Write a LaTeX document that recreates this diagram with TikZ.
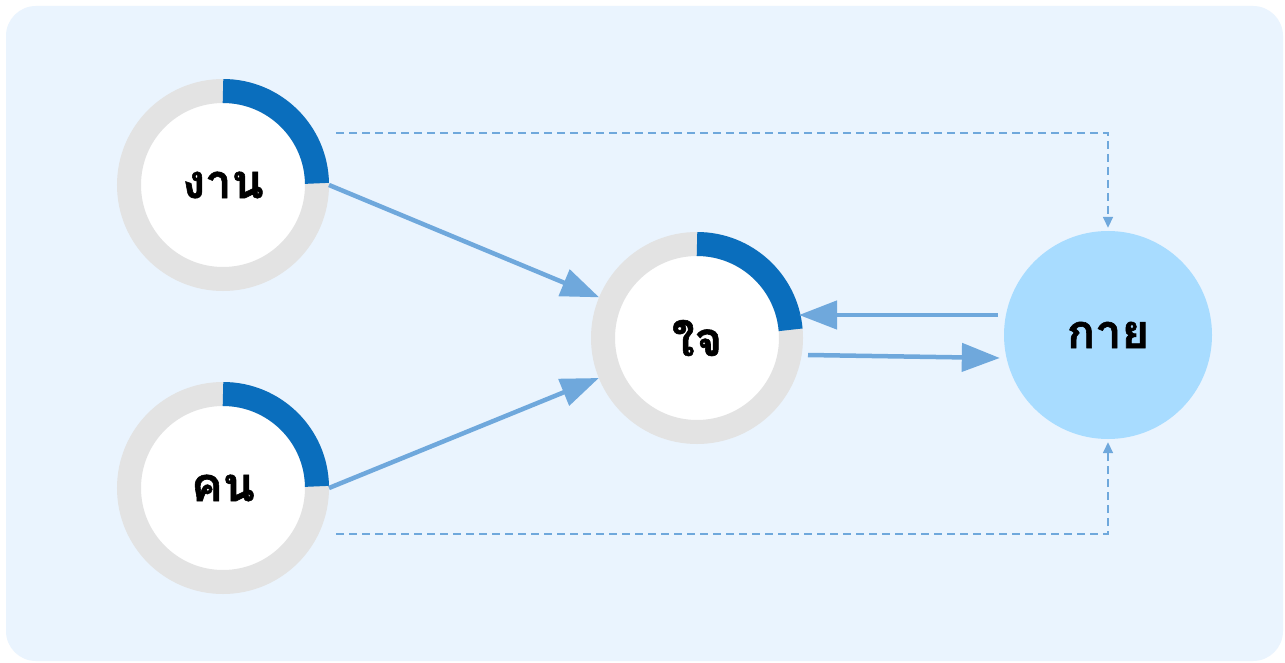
\documentclass[tikz,border=0pt]{standalone}
\usepackage{fontspec}
\newfontfamily\thaifont[Script=Thai,FakeBold=1.2]{Loma}
\usetikzlibrary{arrows.meta}
\definecolor{bgblue}{HTML}{EAF4FE}
\definecolor{ringgray}{HTML}{E3E3E3}
\definecolor{arcblue}{HTML}{0A6EBD}
\definecolor{arrowblue}{HTML}{6FA8DC}
\definecolor{kayfill}{HTML}{A8DCFF}
\tikzset{
  lbl/.style={font=\thaifont\bfseries\fontsize{47}{50}\selectfont},
  ring/.style={circle, draw=ringgray, line width=24pt, fill=white, minimum size=188pt, inner sep=0pt, lbl},
  arcpart/.style={draw=arcblue, line width=24pt},
  kaynode/.style={circle, fill=kayfill, minimum size=208pt, inner sep=0pt, lbl},
  flow/.style={draw=arrowblue, line width=4.5pt, -{Triangle[length=38pt,width=28pt]}},
  dashflow/.style={draw=arrowblue, line width=1.6pt, dash pattern=on 8pt off 5pt, -{Triangle[length=11pt,width=10pt]}}
}
\begin{document}
\begin{tikzpicture}[x=1pt,y=-1pt]
\useasboundingbox (0,0) rectangle (1285,663);
\fill[white] (0,0) rectangle (1285,663);
\fill[bgblue, rounded corners=30pt] (6,6) rectangle (1283,661);

\node[ring] (gan) at (223,185) {งาน};
\node[ring] (kon) at (223,488) {คน};
\node[ring] (jai) at (697,338) {ใจ};
\node[kaynode] (kay) at (1108,335) {กาย};

\draw[arcpart] (gan.center) ++(-90:94) arc[start angle=-90, end angle=-1, radius=94];
\draw[arcpart] (kon.center) ++(-90:94) arc[start angle=-90, end angle=-1, radius=94];
\draw[arcpart] (jai.center) ++(-90:94) arc[start angle=-90, end angle=-5, radius=94];

\draw[flow] (gan.east) -- (jai);
\draw[flow] (kon.east) -- (jai);
\draw[flow] ([shift={(-6,-20)}]kay.west) -- ([shift={(-4,-23)}]jai.east);
\draw[flow] ([shift={(5,17)}]jai.east) -- ([shift={(-4,23)}]kay.west);

\coordinate (gtop) at ([shift={(113,-52)}]gan.center);
\coordinate (kbot) at ([shift={(113,46)}]kon.center);
\draw[dashflow, shorten >=3pt] (gtop) -| (kay.north);
\draw[dashflow, shorten >=3pt] (kbot) -| (kay.south);
\end{tikzpicture}
\end{document}
